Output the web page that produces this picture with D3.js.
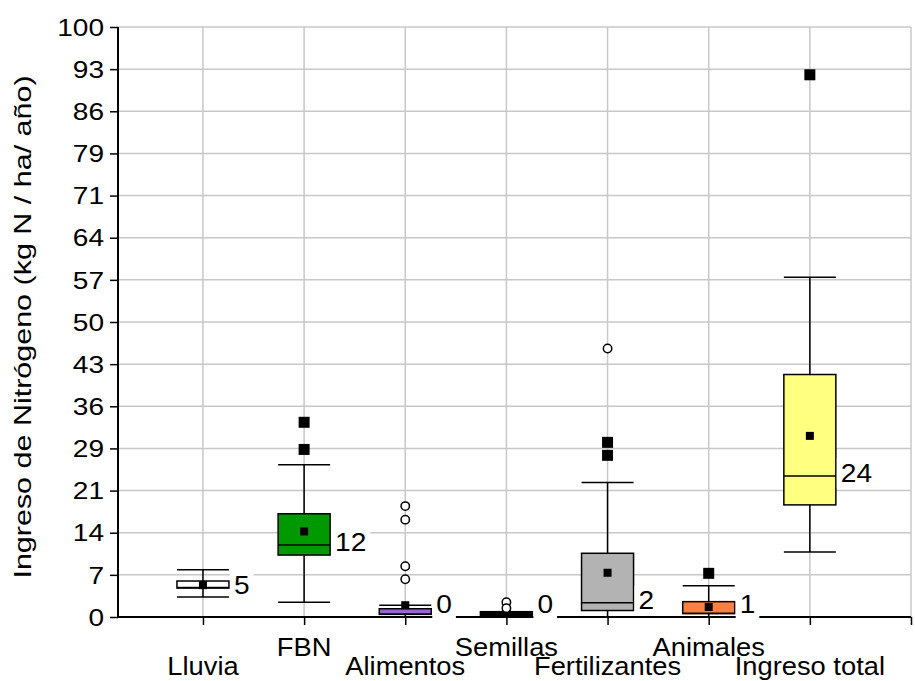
<!DOCTYPE html>
<html>
<head>
<meta charset="utf-8">
<script src="https://cdn.jsdelivr.net/npm/d3@7"></script>
<style>
body { margin: 0; background: #fff; }
text { font-family: "Liberation Sans", Arial, sans-serif; fill: #000; }
</style>
</head>
<body>
<div id="graph"></div>
<script>
var w = 915, h = 681;

// data
var categories = ["Lluvia", "FBN", "Alimentos", "Semillas", "Fertilizantes", "Animales", "Ingreso total"];
var q1 = [4.9, 10.5, 0.45, 0.2, 1.1, 0.6, 19.0];
var medians = [5.0, 12.2, 0.45, 0.3, 2.4, 0.6, 23.9];
var q3 = [6.1, 17.5, 1.4, 0.9, 10.8, 2.6, 41.1];
var whiskLo = [3.4, 2.5, 0, 0, 0, 0, 11.0];
var whiskHi = [8.0, 25.8, 2.0, 0.8, 22.8, 5.3, 57.6];
var means = [5.4, 14.5, 2.0, 1.2, 7.5, 1.7, 30.7];
var medianLabels = ["5", "12", "0", "0", "2", "1", "24"];
var squares = [[], [33.0, 28.4], [], [], [29.6, 27.4], [7.4], [91.9]];
var circles = [[], [], [18.8, 16.5, 8.6, 6.4], [2.5, 1.5], [45.5], [], []];
var yTickLabels = ["0", "7", "14", "21", "29", "36", "43", "50", "57", "64", "71", "79", "86", "93", "100"];

var fills = ["#ffffff", "#009900", "#9966cc", "#000000", "#b3b3b3", "#ff8040", "#ffff80"];

var pLeft = 118, pRight = 911, pTop = 27, pBottom = 617;

var svg = d3.select("#graph")
	.append("svg")
	.attr("width", w)
	.attr("height", h);

var x = d3.scaleLinear().domain([0.16, 8]).range([pLeft, pRight]);
var y = d3.scaleLinear().domain([0, 100]).range([pBottom, pTop]);

var step = 100 / (yTickLabels.length - 1);
var yTicks = yTickLabels.map(function(d, i) { return i * step; });

function stretch(sel, k) {
	sel.each(function() {
		var len = this.getComputedTextLength();
		d3.select(this).attr("textLength", len * k).attr("lengthAdjust", "spacingAndGlyphs");
	});
}

// grid
svg.append("g").selectAll("line")
	.data(yTicks.slice(1))
	.enter().append("line")
	.attr("x1", pLeft).attr("x2", pRight)
	.attr("y1", function(d) { return y(d); })
	.attr("y2", function(d) { return y(d); })
	.attr("stroke", "#c8c8c8")
	.attr("stroke-width", 1.5);

svg.append("g").selectAll("line")
	.data(d3.range(1, categories.length + 2))
	.enter().append("line")
	.attr("x1", function(d) { return x(d); })
	.attr("x2", function(d) { return x(d); })
	.attr("y1", pTop).attr("y2", pBottom)
	.attr("stroke", "#c8c8c8")
	.attr("stroke-width", 1.5);

// axes
var yAxis = svg.append("g")
	.attr("transform", "translate(" + pLeft + ",0)")
	.call(d3.axisLeft(y).tickValues(yTicks).tickSize(8).tickPadding(6)
		.tickFormat(function(d, i) { return yTickLabels[i]; }));
yAxis.select(".domain").attr("stroke-width", 2).attr("d", "M0," + pTop + "V" + pBottom);
yAxis.selectAll(".tick line").attr("stroke-width", 1.5);
yAxis.selectAll("text").attr("font-size", 23).attr("font-family", null).attr("dy", "0.36em");
stretch(yAxis.selectAll("text"), 1.22);

var xAxis = svg.append("g")
	.attr("transform", "translate(0," + pBottom + ")")
	.call(d3.axisBottom(x).tickValues(d3.range(1, categories.length + 2)).tickSize(8).tickFormat(""));
xAxis.select(".domain").attr("stroke-width", 2).attr("d", "M" + pLeft + ",0H" + pRight);
xAxis.selectAll(".tick line").attr("stroke-width", 1.5);

// category labels, staggered in two rows
var catText = svg.append("g").selectAll("text")
	.data(categories)
	.enter().append("text")
	.attr("x", function(d, i) { return x(i + 1); })
	.attr("y", function(d, i) { return i % 2 == 0 ? 675 : 656; })
	.attr("text-anchor", "middle")
	.attr("font-size", 26)
	.text(function(d) { return d; });
stretch(catText, 1.05);

// y title
var title = svg.append("text")
	.attr("transform", "translate(31," + ((pTop + pBottom) / 2 + 5) + ") rotate(-90)")
	.attr("text-anchor", "middle")
	.attr("font-size", 24)
	.text("Ingreso de Nitrógeno (kg N / ha/ año)");
stretch(title, 1.27);

// boxes
var bw = 52;
var boxes = svg.append("g").selectAll("g")
	.data(categories)
	.enter().append("g");

boxes.each(function(d, i) {
	var g = d3.select(this);
	var cx = x(i + 1);
	g.append("line")
		.attr("x1", cx).attr("x2", cx)
		.attr("y1", y(whiskLo[i])).attr("y2", y(whiskHi[i]))
		.attr("stroke", "#000").attr("stroke-width", 1.5);
	g.append("line")
		.attr("x1", cx - bw / 2).attr("x2", cx + bw / 2)
		.attr("y1", y(whiskHi[i])).attr("y2", y(whiskHi[i]))
		.attr("stroke", "#000").attr("stroke-width", 1.5);
	if (whiskLo[i] > 0) {
		g.append("line")
			.attr("x1", cx - bw / 2).attr("x2", cx + bw / 2)
			.attr("y1", y(whiskLo[i])).attr("y2", y(whiskLo[i]))
			.attr("stroke", "#000").attr("stroke-width", 1.5);
	}
	g.append("rect")
		.attr("x", cx - bw / 2)
		.attr("y", y(q3[i]))
		.attr("width", bw)
		.attr("height", y(q1[i]) - y(q3[i]))
		.attr("fill", fills[i])
		.attr("stroke", "#000").attr("stroke-width", 1.5);
	g.append("line")
		.attr("x1", cx - bw / 2).attr("x2", cx + bw / 2)
		.attr("y1", y(medians[i])).attr("y2", y(medians[i]))
		.attr("stroke", "#000").attr("stroke-width", 1.5);
	g.append("rect")
		.attr("x", cx - 4).attr("y", y(means[i]) - 4)
		.attr("width", 8).attr("height", 8)
		.attr("fill", "#000");
	squares[i].forEach(function(v) {
		g.append("rect")
			.attr("x", cx - 5.5).attr("y", y(v) - 5.5)
			.attr("width", 11).attr("height", 11)
			.attr("fill", "#000");
	});
	circles[i].forEach(function(v) {
		g.append("circle")
			.attr("cx", cx).attr("cy", y(v)).attr("r", 4.2)
			.attr("fill", "#fff")
			.attr("stroke", "#000").attr("stroke-width", 1.5);
	});
});

// median labels with white background
boxes.each(function(d, i) {
	var g = d3.select(this);
	var cx = x(i + 1);
	var ty = Math.min(y(medians[i]) + 6, y(0) - 4);
	var bg = g.append("rect").attr("fill", "#fff");
	var t = g.append("text")
		.attr("x", cx + 31)
		.attr("y", ty)
		.attr("font-size", 26)
		.text(medianLabels[i]);
	stretch(t, 1.08);
	var bb = t.node().getBBox();
	bg.attr("x", cx + bw / 2 + 1).attr("y", bb.y)
		.attr("width", bb.x + bb.width + 4 - (cx + bw / 2 + 1))
		.attr("height", bb.height);
});
</script>
</body>
</html>
